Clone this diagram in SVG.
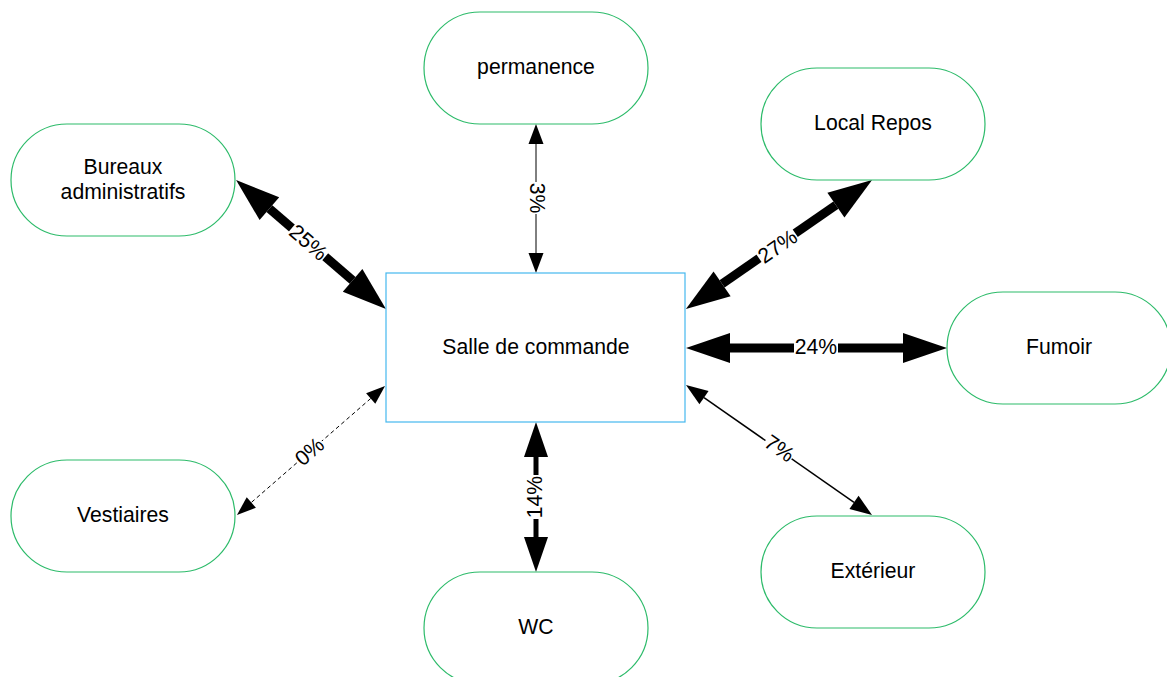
<svg xmlns="http://www.w3.org/2000/svg" width="1167" height="677" viewBox="0 0 1167 677">
<style>
.node{fill:#ffffff;stroke:#2dbb6a;stroke-width:1.2}
.center{fill:#ffffff;stroke:#45b8ee;stroke-width:1.2}
.lbl{font-family:"Liberation Sans",Arial,sans-serif;font-size:21.2px;fill:#000000;text-anchor:middle}
.conn{fill:none;stroke:#000000}
.bg{fill:#ffffff}
</style>
<defs>
<marker id="big" markerUnits="userSpaceOnUse" orient="auto-start-reverse" refX="0" refY="0" markerWidth="50" markerHeight="40" overflow="visible"><path d="M0,-15 L44,0 L0,15 z" fill="#000"/></marker>
<marker id="mid" markerUnits="userSpaceOnUse" orient="auto-start-reverse" refX="0" refY="0" markerWidth="40" markerHeight="30" overflow="visible"><path d="M0,-12 L35,0 L0,12 z" fill="#000"/></marker>
<marker id="sm" markerUnits="userSpaceOnUse" orient="auto-start-reverse" refX="0" refY="0" markerWidth="25" markerHeight="20" overflow="visible"><path d="M0,-7.5 L20,0 L0,7.5 z" fill="#000"/></marker>
<marker id="sm2" markerUnits="userSpaceOnUse" orient="auto-start-reverse" refX="0" refY="0" markerWidth="25" markerHeight="20" overflow="visible"><path d="M0,-8 L22,0 L0,8 z" fill="#000"/></marker>
<marker id="sm3" markerUnits="userSpaceOnUse" orient="auto-start-reverse" refX="0" refY="0" markerWidth="25" markerHeight="20" overflow="visible"><path d="M0,-7 L19,0 L0,7 z" fill="#000"/></marker>
</defs>
<rect width="1167" height="677" fill="#ffffff"/>

<g id="connectors">
<path class="conn" d="M269.4,208.7 L352.6,280.3" stroke-width="9" marker-start="url(#big)" marker-end="url(#big)"/>
<path class="conn" d="M722.1,283.9 L835.9,205.1" stroke-width="9" marker-start="url(#big)" marker-end="url(#big)"/>
<path class="conn" d="M730,348 L903,348" stroke-width="9" marker-start="url(#big)" marker-end="url(#big)"/>
<path class="conn" d="M536,457 L536,537" stroke-width="5" marker-start="url(#mid)" marker-end="url(#mid)"/>
<path class="conn" d="M536,144 L536,253" stroke-width="1" marker-start="url(#sm)" marker-end="url(#sm)"/>
<path class="conn" d="M704,397.6 L854,502.4" stroke-width="1.5" marker-start="url(#sm2)" marker-end="url(#sm2)"/>
<path class="conn" d="M370.7,398.5 L251.3,502.5" stroke-width="1" stroke-dasharray="4,3" marker-start="url(#sm3)" marker-end="url(#sm3)"/>

<g transform="translate(308,243) rotate(40.7)"><rect class="bg" x="-22" y="-9" width="44" height="18"/><text class="lbl" y="-1" dy="0.35em">25%</text></g>
<g transform="translate(778,247) rotate(-34.7)"><rect class="bg" x="-22" y="-9" width="44" height="18"/><text class="lbl" y="-1" dy="0.35em">27%</text></g>
<g transform="translate(816,348)"><rect class="bg" x="-22" y="-9" width="44" height="18"/><text class="lbl" y="-1" dy="0.35em">24%</text></g>
<g transform="translate(536,497) rotate(-90)"><rect class="bg" x="-22" y="-8" width="44" height="16"/><text class="lbl" y="-1" dy="0.35em">14%</text></g>
<g transform="translate(536,198) rotate(90)"><rect class="bg" x="-16" y="-8" width="32" height="16"/><text class="lbl" y="-1" dy="0.35em">3%</text></g>
<g transform="translate(779,449) rotate(35)"><rect class="bg" x="-16" y="-8" width="32" height="16"/><text class="lbl" y="-1" dy="0.35em">7%</text></g>
<g transform="translate(310,452) rotate(-41)"><rect class="bg" x="-16" y="-8" width="32" height="16"/><text class="lbl" y="-1" dy="0.35em">0%</text></g>
</g>

<g id="salle"><rect class="center" x="386" y="273" width="299" height="149"/><text class="lbl" x="536" y="347" dy="0.35em">Salle de commande</text></g>
<g id="permanence"><rect class="node" x="424" y="12" width="224" height="112" rx="56" ry="56"/><text class="lbl" x="536" y="67" dy="0.35em">permanence</text></g>
<g id="localrepos"><rect class="node" x="761" y="68" width="224" height="112" rx="56" ry="56"/><text class="lbl" x="873" y="123" dy="0.35em">Local Repos</text></g>
<g id="bureaux"><rect class="node" x="11" y="124" width="224" height="112" rx="56" ry="56"/><text class="lbl" x="123" y="166.5" dy="0.35em">Bureaux</text><text class="lbl" x="123" y="191.5" dy="0.35em">administratifs</text></g>
<g id="fumoir"><rect class="node" x="947" y="292" width="224" height="112" rx="56" ry="56"/><text class="lbl" x="1059" y="347" dy="0.35em">Fumoir</text></g>
<g id="vestiaires"><rect class="node" x="11" y="460" width="224" height="112" rx="56" ry="56"/><text class="lbl" x="123" y="515" dy="0.35em">Vestiaires</text></g>
<g id="wc"><rect class="node" x="424" y="572" width="224" height="112" rx="56" ry="56"/><text class="lbl" x="536" y="627" dy="0.35em">WC</text></g>
<g id="exterieur"><rect class="node" x="761" y="516" width="224" height="112" rx="56" ry="56"/><text class="lbl" x="873" y="571" dy="0.35em">Extérieur</text></g>
</svg>
